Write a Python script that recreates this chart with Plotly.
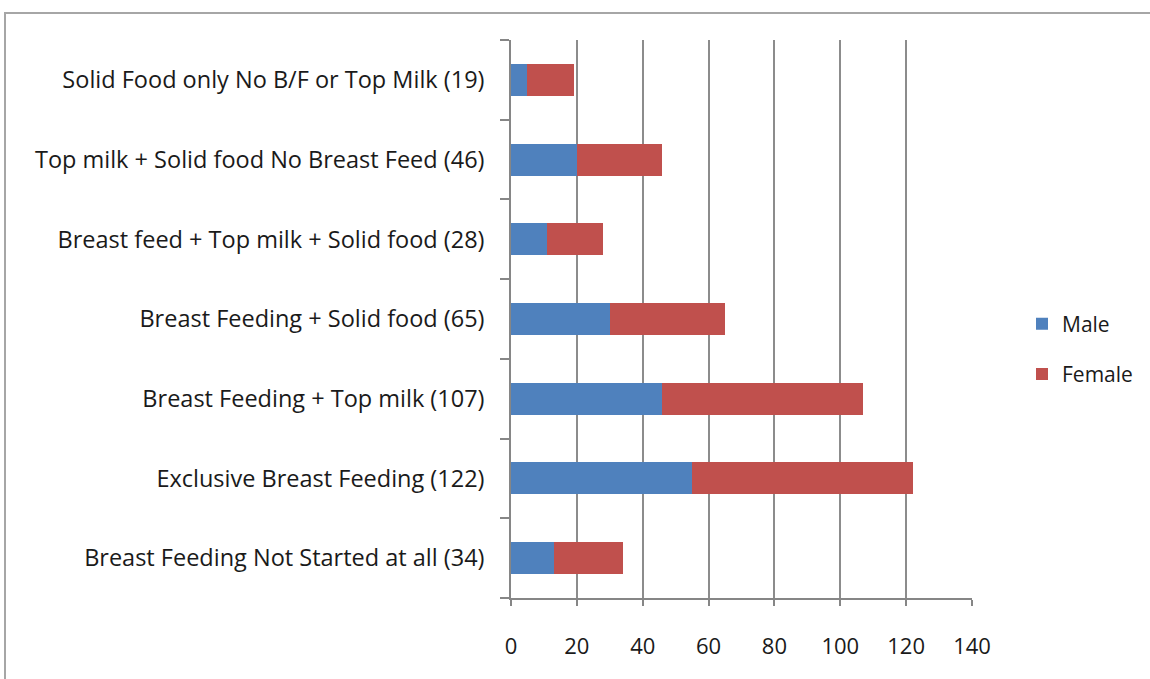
import plotly.graph_objects as go

categories = [
    "Breast Feeding Not Started at all (34)",
    "Exclusive Breast Feeding (122)",
    "Breast Feeding + Top milk (107)",
    "Breast Feeding + Solid food (65)",
    "Breast feed + Top milk + Solid food (28)",
    "Top milk + Solid food No Breast Feed (46)",
    "Solid Food only No B/F or Top Milk (19)",
]
male = [13, 55, 46, 30, 11, 20, 5]
female = [21, 67, 61, 35, 17, 26, 14]
x_ticks = [0, 20, 40, 60, 80, 100, 120, 140]

FONT = "Open Sans"
fig = go.Figure()
fig.add_trace(go.Bar(y=categories, x=male, name="Male", orientation="h",
                     marker=dict(color="#4F81BD", line=dict(width=0)),
                     legendgroup="m", width=0.4))
fig.add_trace(go.Bar(y=categories, x=female, name="Female", orientation="h",
                     marker=dict(color="#C0504D", line=dict(width=0)),
                     legendgroup="f", width=0.4))

L, R, T, B = 511, 178, 40, 81
W, H = 1150, 679
pw, ph = W - L - R, H - T - B

def px_x(p):
    return (p - L) / pw

def px_y(p):
    return (H - B - p) / ph

fig.update_layout(
    width=W, height=H,
    barmode="stack",
    margin=dict(l=L, r=R, t=T, b=B, pad=0),
    paper_bgcolor="white", plot_bgcolor="white",
    font=dict(family=FONT, size=22, color="#1a1a1a"),
    showlegend=True,
    legend=dict(x=px_x(1022), y=px_y(349), xanchor="left", yanchor="middle",
                traceorder="grouped", tracegroupgap=20,
                font=dict(size=21), bgcolor="rgba(0,0,0,0)"),
    xaxis=dict(range=[0, 140], tickvals=x_ticks, ticks="outside", ticklen=6,
               tickcolor="#868686", tickwidth=1.5,
               tickfont=dict(size=22),
               showgrid=True, gridcolor="#8c8c8c", gridwidth=1.5,
               showline=True, linecolor="#868686", linewidth=1.5,
               zeroline=False, ticklabelstandoff=22, fixedrange=True),
    yaxis=dict(type="category", categoryorder="array", categoryarray=categories,
               ticks="outside", tickson="boundaries", ticklen=9,
               tickcolor="#868686", tickwidth=1.5,
               tickfont=dict(size=23.5),
               showline=True, linecolor="#868686", linewidth=1.5,
               showgrid=False, ticklabelstandoff=20, fixedrange=True),
    shapes=[dict(type="rect", xref="paper", yref="paper",
                 x0=px_x(5), x1=px_x(1160), y0=px_y(700), y1=px_y(13),
                 line=dict(color="#a6a6a6", width=2), fillcolor="rgba(0,0,0,0)",
                 layer="below")],
)

fig.write_html("out.html")
